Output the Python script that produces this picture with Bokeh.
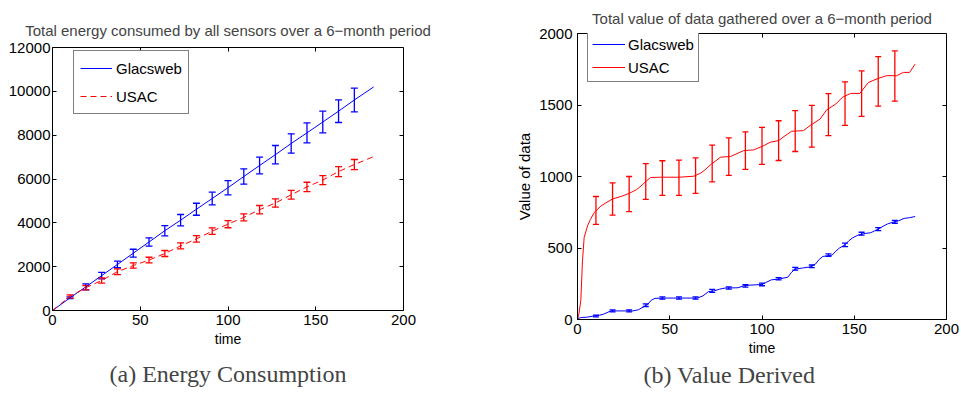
from bokeh.plotting import figure
from bokeh.models import (Range1d, FixedTicker, LinearAxis, Whisker, TeeHead,
                          ColumnDataSource, Title)
from bokeh.embed import file_html
from bokeh.resources import INLINE

# ---------------- data ----------------
err_days = [10, 19, 28, 37, 46, 55, 64, 73, 82, 91, 100, 109, 118, 127, 136, 145, 154, 163, 172]

# (a) energy consumption
glacsweb_energy = [580, 1080, 1590, 2100, 2615, 3125, 3640, 4120, 4620, 5110, 5604, 6113,
                   6615, 7110, 7620, 8105, 8600, 9095, 9606]
glacsweb_energy_err = [40, 137, 145, 150, 180, 190, 235, 260, 273, 290, 326, 350,
                       380, 418, 440, 455, 494, 518, 540]
usac_energy = [640, 1040, 1370, 1770, 2050, 2300, 2600, 2950, 3270, 3620, 3940, 4250,
               4600, 4905, 5280, 5640, 5950, 6340, 6660]
usac_energy_err = [75, 100, 120, 130, 120, 130, 137, 137, 150, 150, 165, 160,
                   190, 190, 197, 212, 205, 228, 230]
energy_line_days = [0] + err_days + [183]
glacsweb_energy_line = [0] + glacsweb_energy + [10200]
usac_energy_line = [0] + usac_energy + [7020]

# (b) value derived
glacsweb_value_days = [0, 1, 2, 5, 9, 12, 14, 16, 18, 30, 33, 36, 38, 40, 42, 48, 65, 68, 71,
                       74, 77, 80, 87, 90, 93, 100, 102, 105, 110, 114, 116, 118, 122, 126,
                       129, 131, 133, 138, 140, 142, 145, 147, 149, 152, 155, 159, 161, 163,
                       166, 168, 171, 174, 177, 180, 183]
glacsweb_value = [0, 10, 14, 16, 25, 30, 37, 48, 60, 60, 68, 90, 105, 135, 148, 150, 150, 165,
                  195, 200, 212, 220, 222, 235, 240, 245, 258, 277, 285, 296, 330, 353, 360,
                  368, 388, 420, 441, 450, 478, 500, 522, 550, 570, 590, 600, 607, 620, 632,
                  655, 668, 681, 690, 707, 712, 720]
usac_value_days = [0, 0.5, 1, 1.8, 2.7, 3.6, 5.4, 7, 9, 10, 12.6, 15.3, 19, 24, 28, 32, 35, 37,
                   39.6, 45, 55, 63, 66.7, 69, 72, 75, 77.5, 83, 90, 95.5, 101, 104.5, 109,
                   112, 116, 122.5, 126, 131.5, 135, 140, 143.5, 148, 153, 157.7, 163, 167.6,
                   173, 176.6, 180, 183]
usac_value = [0, 20, 60, 134, 411, 573, 654, 700, 746, 760, 792, 815, 843, 862, 882, 908, 940,
              965, 993, 995, 995, 1002, 1023, 1045, 1081, 1110, 1135, 1140, 1181, 1186, 1216,
              1240, 1251, 1280, 1316, 1321, 1356, 1402, 1465, 1507, 1553, 1581, 1581, 1658,
              1686, 1705, 1705, 1728, 1728, 1786]
usac_value_upper = [860, 955, 1000, 1090, 1110, 1115, 1130, 1220, 1270, 1312, 1344, 1390,
                    1460, 1498, 1580, 1662, 1738, 1838, 1878]
usac_value_lower = [665, 730, 755, 840, 868, 868, 882, 963, 1008, 1050, 1085, 1112,
                    1175, 1205, 1286, 1357, 1420, 1492, 1527]
glacsweb_value_mid = [25, 60, 60, 100, 150, 150, 150, 200, 220, 235, 245, 285,
                      355, 372, 450, 522, 600, 632, 683]
glacsweb_value_err = [6, 7, 7, 9, 8, 8, 8, 10, 8, 8, 9, 8, 10, 9, 9, 12, 10, 10, 10]

x_ticks = [0, 50, 100, 150, 200]
energy_ticks = [0, 2000, 4000, 6000, 8000, 10000, 12000]
value_ticks = [0, 500, 1000, 1500, 2000]

BLUE = "#0000ff"
RED = "#ff0000"
SANS = "Liberation Sans"
SERIF = "Liberation Serif"


def style(p, xt, yt, label_standoff_y, x_end, y_end):
    p.xgrid.visible = False
    p.ygrid.visible = False
    p.outline_line_color = "black"
    p.outline_line_width = 1
    p.background_fill_color = "white"
    p.border_fill_color = "white"
    for ax in (p.xaxis[0], p.yaxis[0]):
        ax.major_tick_in = 4
        ax.major_tick_out = 0
        ax.minor_tick_line_color = None
        ax.axis_line_color = "black"
        ax.major_tick_line_color = "black"
        ax.major_label_text_font = SANS
        ax.major_label_text_font_size = "15px"
        ax.major_label_text_color = "black"
        ax.axis_label_text_font = SANS
        ax.axis_label_text_font_size = "14px"
        ax.axis_label_text_font_style = "normal"
        ax.axis_label_text_color = "black"
    p.xaxis[0].ticker = FixedTicker(ticks=xt)
    p.yaxis[0].ticker = FixedTicker(ticks=yt)
    p.xaxis[0].major_label_standoff = 4
    p.xaxis[0].axis_label_standoff = 3
    p.yaxis[0].major_label_standoff = label_standoff_y
    # tick marks on the top and right sides (MATLAB box), taking no space
    for side, tk, loc in (("above", xt, y_end), ("right", yt, x_end)):
        ax = LinearAxis(ticker=FixedTicker(ticks=tk), major_tick_in=4, major_tick_out=0,
                        minor_tick_line_color=None, axis_line_color=None,
                        major_tick_line_color="black", major_label_text_font_size="0px",
                        major_label_standoff=0, fixed_location=loc,
                        major_label_overrides={t: "" for t in tk})
        p.add_layout(ax, side)


# ---------------- (a) ----------------
p1 = figure(width=480, height=398, output_backend="svg", toolbar_location=None,
            x_range=Range1d(0, 200), y_range=Range1d(0, 12000),
            min_border_left=52, min_border_right=77, min_border_top=47, min_border_bottom=88,
            title="Total energy consumed by all sensors over a 6\u2212month period",
            x_axis_label="time")
style(p1, x_ticks, energy_ticks, 2, 200, 12000)
p1.title.align = "center"
p1.title.text_font = SANS
p1.title.text_font_size = "15px"
p1.title.text_font_style = "normal"
p1.title.standoff = 17

src_g1 = ColumnDataSource(dict(x=err_days,
                               up=[v + e for v, e in zip(glacsweb_energy, glacsweb_energy_err)],
                               lo=[v - e for v, e in zip(glacsweb_energy, glacsweb_energy_err)]))
src_u1 = ColumnDataSource(dict(x=err_days,
                               up=[v + e for v, e in zip(usac_energy, usac_energy_err)],
                               lo=[v - e for v, e in zip(usac_energy, usac_energy_err)]))
p1.add_layout(Whisker(base="x", upper="up", lower="lo", source=src_g1, line_color=BLUE,
                      line_width=1.3,
                      upper_head=TeeHead(size=7, line_color=BLUE, line_width=1.3),
                      lower_head=TeeHead(size=7, line_color=BLUE, line_width=1.3)))
p1.add_layout(Whisker(base="x", upper="up", lower="lo", source=src_u1, line_color=RED,
                      line_width=1.3,
                      upper_head=TeeHead(size=7, line_color=RED, line_width=1.3),
                      lower_head=TeeHead(size=7, line_color=RED, line_width=1.3)))
p1.line(energy_line_days, glacsweb_energy_line, line_color=BLUE, line_width=1,
        legend_label="Glacsweb")
p1.line(energy_line_days, usac_energy_line, line_color=RED, line_width=1,
        line_dash="6 4", legend_label="USAC")

lg1 = p1.legend[0]
lg1.location = (21, 196)
lg1.margin = 0
lg1.padding = 6
lg1.spacing = 6
lg1.label_height = 22
lg1.glyph_height = 22
lg1.glyph_width = 32
lg1.label_standoff = 4
lg1.label_text_font = SANS
lg1.label_text_font_size = "15px"
lg1.label_text_color = "black"
lg1.border_line_color = "black"
lg1.border_line_width = 1
lg1.background_fill_alpha = 1

p1.add_layout(Title(text="(a) Energy Consumption", align="center", text_font=SERIF,
                    text_font_size="24px", text_font_style="normal", standoff=18), "below")

# ---------------- (b) ----------------
p2 = figure(width=481, height=398, output_backend="svg", toolbar_location=None,
            x_range=Range1d(0, 200), y_range=Range1d(0, 2000),
            min_border_left=97, min_border_right=15, min_border_top=31, min_border_bottom=79,
            title="Total value of data gathered over a 6\u2212month period",
            x_axis_label="time", y_axis_label="Value of data")
style(p2, x_ticks, value_ticks, 5, 200, 2000)
p2.yaxis[0].axis_label_standoff = 3
p2.yaxis[0].axis_label_text_font_size = "15px"
p2.title.align = "center"
p2.title.text_font = SANS
p2.title.text_font_size = "15px"
p2.title.text_font_style = "normal"
p2.title.standoff = 14

src_u2 = ColumnDataSource(dict(x=err_days, up=usac_value_upper, lo=usac_value_lower))
src_g2 = ColumnDataSource(dict(x=err_days,
                               up=[v + e for v, e in zip(glacsweb_value_mid, glacsweb_value_err)],
                               lo=[v - e for v, e in zip(glacsweb_value_mid, glacsweb_value_err)]))
p2.add_layout(Whisker(base="x", upper="up", lower="lo", source=src_u2, line_color=RED,
                      line_width=1.3,
                      upper_head=TeeHead(size=6, line_color=RED, line_width=1.3),
                      lower_head=TeeHead(size=6, line_color=RED, line_width=1.3)))
p2.add_layout(Whisker(base="x", upper="up", lower="lo", source=src_g2, line_color=BLUE,
                      line_width=1.3,
                      upper_head=TeeHead(size=6, line_color=BLUE, line_width=1.3),
                      lower_head=TeeHead(size=6, line_color=BLUE, line_width=1.3)))
p2.line(glacsweb_value_days, glacsweb_value, line_color=BLUE, line_width=1,
        legend_label="Glacsweb")
p2.line(usac_value_days, usac_value, line_color=RED, line_width=1, legend_label="USAC")

lg2 = p2.legend[0]
lg2.location = (10, 237)
lg2.margin = 0
lg2.padding = 4
lg2.spacing = 3
lg2.label_height = 20
lg2.glyph_height = 20
lg2.glyph_width = 33
lg2.label_standoff = 3
lg2.label_text_font = SANS
lg2.label_text_font_size = "15px"
lg2.label_text_color = "black"
lg2.border_line_color = "black"
lg2.border_line_width = 1
lg2.background_fill_alpha = 1

p2.add_layout(Title(text="(b) Value Derived", align="left", text_font=SERIF,
                    text_font_size="24px", text_font_style="normal", standoff=2,
                    offset=66), "below")

# two independent roots placed side by side (no frame alignment between them)
side_by_side = """
{% block postamble %}
<style>
  body { display: flex !important; flex-direction: row; align-items: flex-start;
         overflow: hidden; }
  body > * { flex-shrink: 0; }
</style>
{% endblock %}
"""
open("out.html", "w").write(file_html([p1, p2], INLINE, template=side_by_side))
